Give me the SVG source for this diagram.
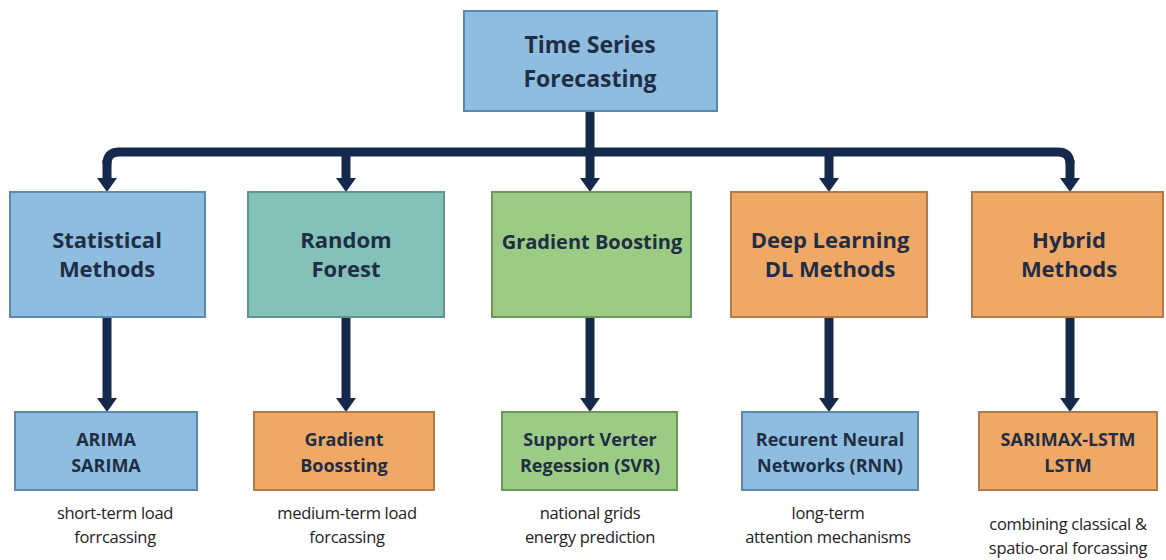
<svg xmlns="http://www.w3.org/2000/svg" width="1166" height="560" viewBox="0 0 1166 560">
<defs>
<style>
.box{stroke-width:2}
.blue{fill:#8fbde0;stroke:#5b87b0}
.teal{fill:#84c1b8;stroke:#5f958c}
.green{fill:#9ccb86;stroke:#6b975a}
.orange{fill:#f0a867;stroke:#b27a48}
.t{font-family:"Open Sans","Noto Sans","Liberation Sans",sans-serif;font-weight:700;fill:#1f2e45;text-anchor:middle}
.t1{font-size:23px}
.t2{font-size:22px}
.t3{font-size:18px}
.cap{font-family:"Open Sans","Noto Sans","Liberation Sans",sans-serif;font-size:16.5px;fill:#222;text-anchor:middle;letter-spacing:-0.3px}
.conn{fill:none;stroke:#14294b;stroke-width:9}
</style>
<marker id="ah" viewBox="0 0 14 20" refX="4" refY="10" markerWidth="14" markerHeight="20" markerUnits="userSpaceOnUse" orient="auto">
<path d="M0,0 L14,10 L0,20 z" fill="#14294b"/>
</marker>
</defs>
<rect width="1166" height="560" fill="#ffffff"/>

<g id="connectors">
<path class="conn" d="M107,164 Q107,152 119,152 H1058 Q1070,152 1070,164"/>
<path class="conn" d="M107,160 V182" marker-end="url(#ah)"/>
<path class="conn" d="M346,152 V182" marker-end="url(#ah)"/>
<path class="conn" d="M590,111 V182" marker-end="url(#ah)"/>
<path class="conn" d="M829,152 V182" marker-end="url(#ah)"/>
<path class="conn" d="M1070,160 V182" marker-end="url(#ah)"/>
<path class="conn" d="M107,317 V402" marker-end="url(#ah)"/>
<path class="conn" d="M346,317 V402" marker-end="url(#ah)"/>
<path class="conn" d="M590,317 V402" marker-end="url(#ah)"/>
<path class="conn" d="M829,317 V402" marker-end="url(#ah)"/>
<path class="conn" d="M1070,317 V402" marker-end="url(#ah)"/>
</g>

<g id="root">
<rect class="box blue" x="464" y="11" width="253" height="100"/>
<text class="t t1" x="590" y="53">Time Series</text>
<text class="t t1" x="590" y="87">Forecasting</text>
</g>

<g id="statistical">
<rect class="box blue" x="10" y="192" width="195" height="125"/>
<text class="t t2" x="107" y="248">Statistical</text>
<text class="t t2" x="107" y="277">Methods</text>
</g>
<g id="randomforest">
<rect class="box teal" x="248" y="192" width="196" height="125"/>
<text class="t t2" x="346" y="248">Random</text>
<text class="t t2" x="346" y="277">Forest</text>
</g>
<g id="gradientboosting">
<rect class="box green" x="492" y="192" width="199" height="125"/>
<text class="t" style="font-size:20px" x="592" y="249">Gradient Boosting</text>
</g>
<g id="deeplearning">
<rect class="box orange" x="731" y="192" width="196" height="125"/>
<text class="t t2" x="830" y="248">Deep Learning</text>
<text class="t t2" x="830" y="277">DL Methods</text>
</g>
<g id="hybrid">
<rect class="box orange" x="972" y="192" width="191" height="125"/>
<text class="t t2" x="1069" y="248">Hybrid</text>
<text class="t t2" x="1069" y="277">Methods</text>
</g>

<g id="arima">
<rect class="box blue" x="15" y="412" width="182" height="78"/>
<text class="t t3" x="106" y="446">ARIMA</text>
<text class="t t3" x="106" y="472">SARIMA</text>
<text class="cap" x="115" y="519">short-term load</text>
<text class="cap" x="115" y="543">forrcassing</text>
</g>
<g id="gradientboossting">
<rect class="box orange" x="254" y="412" width="180" height="78"/>
<text class="t t3" x="344" y="446">Gradient</text>
<text class="t t3" x="344" y="472">Boossting</text>
<text class="cap" x="347" y="519">medium-term load</text>
<text class="cap" x="347" y="543">forcassing</text>
</g>
<g id="svr">
<rect class="box green" x="502" y="412" width="175" height="78"/>
<text class="t t3" x="590" y="446">Support Verter</text>
<text class="t t3" x="590" y="472">Regession (SVR)</text>
<text class="cap" x="590" y="519">national grids</text>
<text class="cap" x="590" y="543">energy prediction</text>
</g>
<g id="rnn">
<rect class="box blue" x="742" y="412" width="176" height="78"/>
<text class="t t3" x="830" y="446">Recurent Neural</text>
<text class="t t3" x="830" y="472">Networks (RNN)</text>
<text class="cap" x="828" y="519">long-term</text>
<text class="cap" x="828" y="543">attention mechanisms</text>
</g>
<g id="sarimax">
<rect class="box orange" x="979" y="412" width="178" height="78"/>
<text class="t t3" x="1068" y="446">SARIMAX-LSTM</text>
<text class="t t3" x="1068" y="472">LSTM</text>
<text class="cap" x="1068" y="530">combining classical &amp;</text>
<text class="cap" x="1068" y="554">spatio-oral forcassing</text>
</g>
</svg>
